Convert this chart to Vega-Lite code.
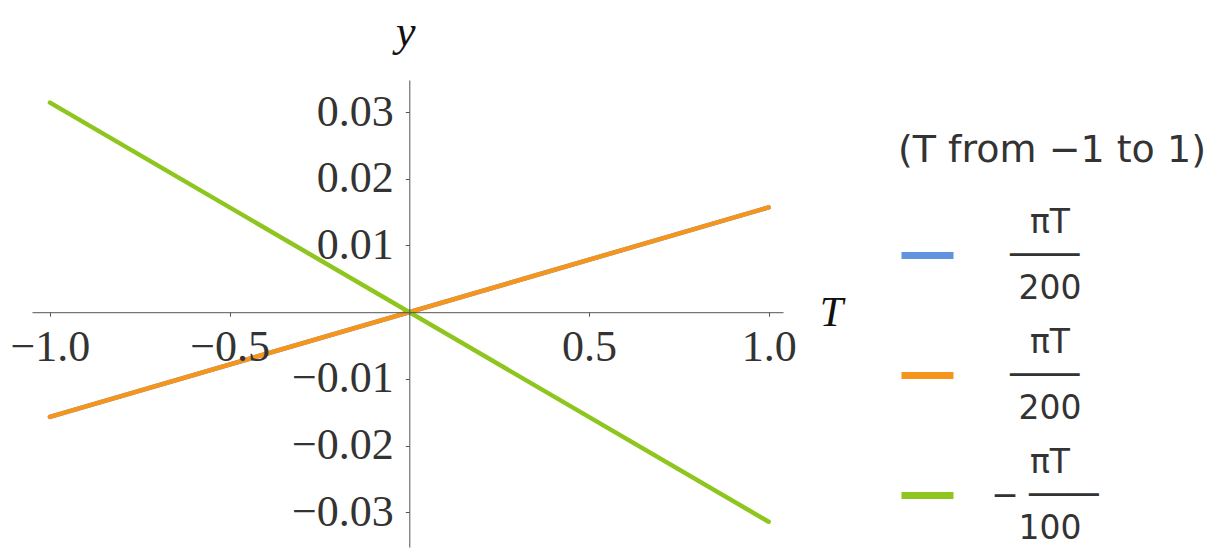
{
  "$schema": "https://vega.github.io/schema/vega-lite/v6.json",
  "autosize": "none",
  "width": 751,
  "height": 467,
  "padding": {"left": 32, "top": 80, "right": 437, "bottom": 9},
  "background": "white",
  "config": {"view": {"stroke": null}},
  "data": {
    "values": [
      {"series": "a", "T": -1, "y": -0.015708},
      {"series": "a", "T": 1, "y": 0.015708},
      {"series": "b", "T": -1, "y": -0.015708},
      {"series": "b", "T": 1, "y": 0.015708},
      {"series": "c", "T": -1, "y": 0.031416},
      {"series": "c", "T": 1, "y": -0.031416}
    ]
  },
  "mark": {"type": "line", "strokeWidth": 4.5, "strokeCap": "round", "clip": false},
  "encoding": {
    "x": {
      "field": "T",
      "type": "quantitative",
      "scale": {"domain": [-1.05, 1.04], "nice": false, "zero": false},
      "axis": {
        "orient": "bottom",
        "offset": -234.8,
        "zindex": 1,
        "values": [-1, -0.5, 0.5, 1],
        "format": ".1f",
        "grid": false,
        "domainColor": "#555555",
        "domainWidth": 1,
        "tickColor": "#555555",
        "tickSize": 4,
        "labelFont": "Liberation Serif",
        "labelFontSize": 44,
        "labelColor": "#333333",
        "labelPadding": 9,
        "labelFlush": false,
        "labelOverlap": false,
        "title": "T",
        "titleFont": "Liberation Serif",
        "titleFontStyle": "italic",
        "titleFontWeight": "normal",
        "titleFontSize": 42,
        "titleColor": "#111111",
        "titleAngle": 0,
        "titleX": 799,
        "titleY": 13,
        "titleAlign": "center",
        "titleBaseline": "alphabetic"
      }
    },
    "y": {
      "field": "y",
      "type": "quantitative",
      "scale": {"domain": [-0.0352, 0.0348], "nice": false, "zero": false},
      "axis": {
        "orient": "left",
        "offset": -377.3,
        "zindex": 1,
        "values": [-0.03, -0.02, -0.01, 0.01, 0.02, 0.03],
        "format": ".2f",
        "grid": false,
        "domainColor": "#555555",
        "domainWidth": 1,
        "tickColor": "#555555",
        "tickSize": 4,
        "labelFont": "Liberation Serif",
        "labelFontSize": 44,
        "labelColor": "#333333",
        "labelPadding": 12,
        "labelFlush": false,
        "labelOverlap": false,
        "title": "y",
        "titleFont": "Liberation Serif",
        "titleFontStyle": "italic",
        "titleFontWeight": "normal",
        "titleFontSize": 44,
        "titleColor": "#111111",
        "titleAngle": 0,
        "titleX": -4,
        "titleY": -35,
        "titleAlign": "center",
        "titleBaseline": "alphabetic"
      }
    },
    "color": {
      "field": "series",
      "type": "nominal",
      "scale": {"domain": ["a", "b", "c"], "range": ["#6193de", "#f5951c", "#8ec61f"]},
      "legend": {
        "orient": "none",
        "legendX": 866,
        "legendY": 52,
        "padding": 0,
        "title": "(T from −1 to 1)",
        "titleFont": "DejaVu Sans",
        "titleFontSize": 38,
        "titleFontWeight": "normal",
        "titleColor": "#333333",
        "titleLimit": 400,
        "titlePadding": 56,
        "symbolType": "stroke",
        "symbolSize": 2704,
        "symbolStrokeWidth": 7,
        "rowPadding": 20,
        "labelOffset": 93,
        "labelAlign": "center",
        "labelFont": "DejaVu Sans",
        "labelFontSize": 33,
        "labelColor": "#333333",
        "labelLimit": 300,
        "labelBaseline": "middle",
        "labelExpr": "datum.value == 'c' ? ['\u2007\u2007\u2007πT', '\u2007− ───╴', '\u2007\u2007\u2007100'] : ['πT', '───╴', '200']",
        "encode": {"labels": {"update": {"lineHeight": {"value": 33}, "dy": {"value": -33}}}}
      }
    }
  }
}
